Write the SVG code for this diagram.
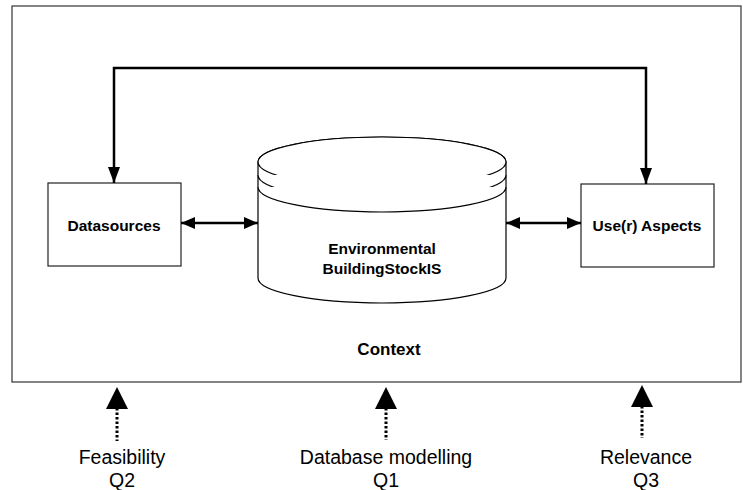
<svg xmlns="http://www.w3.org/2000/svg" width="743" height="490" viewBox="0 0 743 490">
  <style>
    .frame { fill: #fff; stroke: #333; stroke-width: 1.2; }
    .box { fill: #fff; stroke: #222; stroke-width: 1.2; }
    .cyl { fill: #fff; stroke: #000; stroke-width: 1.2; }
    .lbl { font-family: "Liberation Sans", Arial, sans-serif; font-weight: bold; fill: #000; text-anchor: middle; }
    .q { font-family: "Liberation Sans", Arial, sans-serif; font-size: 19.5px; fill: #000; text-anchor: middle; }
    .link { fill: none; stroke: #000; stroke-width: 2.5; }
    .dots { fill: none; stroke: #000; stroke-width: 3; stroke-dasharray: 2.5 2; }
    .head { fill: #000; }
  </style>
  <defs>
    <marker id="arrow" markerUnits="userSpaceOnUse" viewBox="0 0 16 12" refX="16" refY="6" markerWidth="16" markerHeight="12" orient="auto-start-reverse">
      <path d="M0,0 L16,6 L0,12 Z" fill="#000"/>
    </marker>
    <marker id="arrowSm" markerUnits="userSpaceOnUse" viewBox="0 0 14 12" refX="14" refY="6" markerWidth="14" markerHeight="12" orient="auto-start-reverse">
      <path d="M0,0 L14,6 L0,12 Z" fill="#000"/>
    </marker>
  </defs>

  <!-- context frame -->
  <g id="context">
    <rect class="frame" x="12" y="6" width="729" height="376"/>
    <text class="lbl" x="389" y="355" font-size="17">Context</text>
  </g>

  <g id="datasources">
    <rect class="box" x="48" y="183" width="133" height="83"/>
    <text class="lbl" x="114" y="231" font-size="15.5">Datasources</text>
  </g>

  <g id="user-aspects">
    <rect class="box" x="581" y="184" width="133" height="83"/>
    <text class="lbl" x="647" y="231" font-size="15.5">Use(r) Aspects</text>
  </g>

  <g id="database">
    <path class="cyl" d="M258,162 L258,278 A124,25 0 0 0 506,278 L506,162 A124,25 0 0 0 258,162 Z"/>
    <ellipse class="cyl" cx="382" cy="162" rx="124" ry="25"/>
    <path class="cyl" fill="none" d="M258,175 A124,25 0 0 0 506,175"/>
    <path class="cyl" fill="none" d="M258,187 A124,25 0 0 0 506,187"/>
    <text class="lbl" x="382" y="254" font-size="15.5">Environmental</text>
    <text class="lbl" x="382" y="274" font-size="15.5">BuildingStockIS</text>
  </g>

  <g id="connectors">
    <path class="link" d="M114,183 L114,68 L646,68 L646,184" marker-start="url(#arrow)" marker-end="url(#arrow)"/>
    <line class="link" x1="181" y1="223" x2="258" y2="223" stroke-width="2" marker-start="url(#arrowSm)" marker-end="url(#arrowSm)"/>
    <line class="link" x1="506" y1="223" x2="581" y2="223" stroke-width="2" marker-start="url(#arrowSm)" marker-end="url(#arrowSm)"/>
  </g>

  <g id="questions">
    <line class="dots" x1="117" y1="408" x2="117" y2="441"/>
    <path class="head" d="M117,387 L128,409 L106,409 Z"/>
    <text class="q" x="122" y="464">Feasibility</text>
    <text class="q" x="122" y="487">Q2</text>

    <line class="dots" x1="386" y1="408" x2="386" y2="440"/>
    <path class="head" d="M386,387 L397,409 L375,409 Z"/>
    <text class="q" x="386" y="464">Database modelling</text>
    <text class="q" x="386" y="487">Q1</text>

    <line class="dots" x1="642" y1="406" x2="642" y2="438"/>
    <path class="head" d="M642,385 L653,407 L631,407 Z"/>
    <text class="q" x="646" y="464">Relevance</text>
    <text class="q" x="646" y="487">Q3</text>
  </g>
</svg>
